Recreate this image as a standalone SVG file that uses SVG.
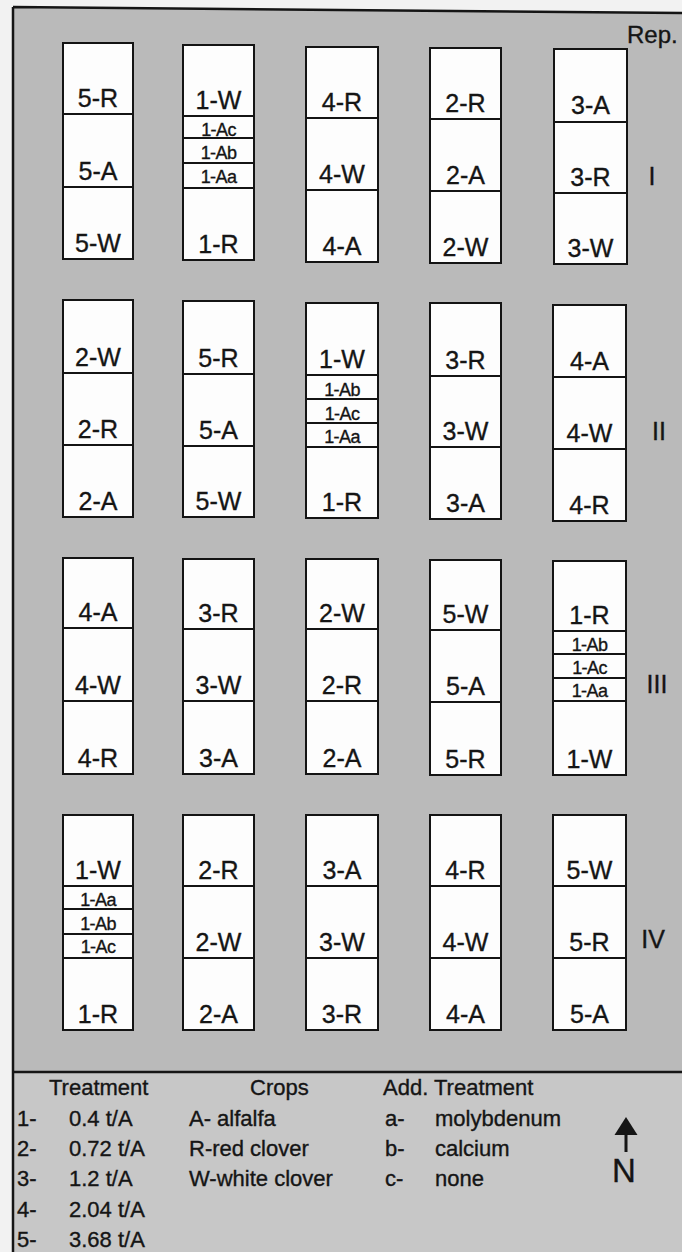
<svg xmlns="http://www.w3.org/2000/svg" width="682" height="1252" viewBox="0 0 682 1252">
<style>
.plot{fill:#fdfdfd;stroke:#141414;stroke-width:2}
.dv{fill:none;stroke:#141414;stroke-width:2}
text{font-family:"Liberation Sans",Arial,sans-serif;fill:#151515;stroke:#151515;stroke-width:0.35}
.lbl{font-size:25px;text-anchor:middle}
.sm{font-size:18px;text-anchor:middle;letter-spacing:-0.6px}
.rn{font-size:25px;text-anchor:middle}
.leg{font-size:22px}
</style>
<rect x="0" y="0" width="682" height="1252" fill="#f2f2f2"/>
<g id="field">
<polygon points="13,7 682,13 682,1072 13,1072" fill="#bababa"/>
<rect x="13" y="1072" width="669" height="180" fill="#c7c7c7"/>
<path d="M13 7L682 13M13 7V1252M13 1072H682" fill="none" stroke="#151515" stroke-width="2.5"/>
<text x="627" y="43" style="font-size:24px">Rep.</text>
<text class="rn" x="652" y="185">I</text>
<text class="rn" x="659" y="440">II</text>
<text class="rn" x="657" y="693">III</text>
<text class="rn" x="653" y="948">IV</text>
</g>

<!-- Rep I -->
<g id="plot-I-1"><rect class="plot" x="63" y="43" width="70" height="216"/><path class="dv" d="M63 114H133M63 187H133"/><text class="lbl" x="98" y="107">5-R</text><text class="lbl" x="98" y="180">5-A</text><text class="lbl" x="98" y="252">5-W</text></g>
<g id="plot-I-2"><rect class="plot" x="183" y="45" width="71" height="215"/><path class="dv" d="M183 116H254M183 138H254M183 163H254M183 188H254"/><text class="lbl" x="218.5" y="109">1-W</text><text class="sm" x="218.5" y="136">1-Ac</text><text class="sm" x="218.5" y="159">1-Ab</text><text class="sm" x="218.5" y="183">1-Aa</text><text class="lbl" x="218.5" y="253">1-R</text></g>
<g id="plot-I-3"><rect class="plot" x="306" y="47" width="72" height="215"/><path class="dv" d="M306 118H378M306 190H378"/><text class="lbl" x="342" y="111">4-R</text><text class="lbl" x="342" y="183">4-W</text><text class="lbl" x="342" y="255">4-A</text></g>
<g id="plot-I-4"><rect class="plot" x="430" y="48" width="71" height="215"/><path class="dv" d="M430 119H501M430 191H501"/><text class="lbl" x="465.5" y="112">2-R</text><text class="lbl" x="465.5" y="184">2-A</text><text class="lbl" x="465.5" y="256">2-W</text></g>
<g id="plot-I-5"><rect class="plot" x="554" y="49" width="73" height="215"/><path class="dv" d="M554 122H627M554 193H627"/><text class="lbl" x="590.5" y="114">3-A</text><text class="lbl" x="590.5" y="186">3-R</text><text class="lbl" x="590.5" y="257">3-W</text></g>

<!-- Rep II -->
<g id="plot-II-1"><rect class="plot" x="63" y="300" width="70" height="217"/><path class="dv" d="M63 373H133M63 445H133"/><text class="lbl" x="98" y="366">2-W</text><text class="lbl" x="98" y="438">2-R</text><text class="lbl" x="98" y="510">2-A</text></g>
<g id="plot-II-2"><rect class="plot" x="183" y="301" width="71" height="216"/><path class="dv" d="M183 374H254M183 446H254"/><text class="lbl" x="218.5" y="367">5-R</text><text class="lbl" x="218.5" y="439">5-A</text><text class="lbl" x="218.5" y="510">5-W</text></g>
<g id="plot-II-3"><rect class="plot" x="306" y="303" width="72" height="215"/><path class="dv" d="M306 375H378M306 399H378M306 423H378M306 447H378"/><text class="lbl" x="342" y="368">1-W</text><text class="sm" x="342" y="396">1-Ab</text><text class="sm" x="342" y="420">1-Ac</text><text class="sm" x="342" y="443">1-Aa</text><text class="lbl" x="342" y="511">1-R</text></g>
<g id="plot-II-4"><rect class="plot" x="430" y="303" width="71" height="216"/><path class="dv" d="M430 376H501M430 447H501"/><text class="lbl" x="465.5" y="369">3-R</text><text class="lbl" x="465.5" y="440">3-W</text><text class="lbl" x="465.5" y="512">3-A</text></g>
<g id="plot-II-5"><rect class="plot" x="553" y="305" width="73" height="216"/><path class="dv" d="M553 377H626M553 449H626"/><text class="lbl" x="589.5" y="370">4-A</text><text class="lbl" x="589.5" y="442">4-W</text><text class="lbl" x="589.5" y="514">4-R</text></g>

<!-- Rep III -->
<g id="plot-III-1"><rect class="plot" x="63" y="558" width="70" height="216"/><path class="dv" d="M63 628H133M63 701H133"/><text class="lbl" x="98" y="621">4-A</text><text class="lbl" x="98" y="694">4-W</text><text class="lbl" x="98" y="767">4-R</text></g>
<g id="plot-III-2"><rect class="plot" x="183" y="559" width="71" height="215"/><path class="dv" d="M183 629H254M183 701H254"/><text class="lbl" x="218.5" y="622">3-R</text><text class="lbl" x="218.5" y="694">3-W</text><text class="lbl" x="218.5" y="767">3-A</text></g>
<g id="plot-III-3"><rect class="plot" x="306" y="559" width="72" height="215"/><path class="dv" d="M306 629H378M306 701H378"/><text class="lbl" x="342" y="622">2-W</text><text class="lbl" x="342" y="694">2-R</text><text class="lbl" x="342" y="767">2-A</text></g>
<g id="plot-III-4"><rect class="plot" x="430" y="560" width="71" height="215"/><path class="dv" d="M430 630H501M430 702H501"/><text class="lbl" x="465.5" y="623">5-W</text><text class="lbl" x="465.5" y="695">5-A</text><text class="lbl" x="465.5" y="768">5-R</text></g>
<g id="plot-III-5"><rect class="plot" x="553" y="561" width="73" height="214"/><path class="dv" d="M553 631H626M553 654H626M553 678H626M553 701H626"/><text class="lbl" x="589.5" y="624">1-R</text><text class="sm" x="589.5" y="651">1-Ab</text><text class="sm" x="589.5" y="674">1-Ac</text><text class="sm" x="589.5" y="697">1-Aa</text><text class="lbl" x="589.5" y="768">1-W</text></g>

<!-- Rep IV -->
<g id="plot-IV-1"><rect class="plot" x="63" y="815" width="70" height="215"/><path class="dv" d="M63 886H133M63 909H133M63 934H133M63 958H133"/><text class="lbl" x="98" y="879">1-W</text><text class="sm" x="98" y="906">1-Aa</text><text class="sm" x="98" y="930">1-Ab</text><text class="sm" x="98" y="953">1-Ac</text><text class="lbl" x="98" y="1023">1-R</text></g>
<g id="plot-IV-2"><rect class="plot" x="183" y="815" width="71" height="215"/><path class="dv" d="M183 886H254M183 958H254"/><text class="lbl" x="218.5" y="879">2-R</text><text class="lbl" x="218.5" y="951">2-W</text><text class="lbl" x="218.5" y="1023">2-A</text></g>
<g id="plot-IV-3"><rect class="plot" x="306" y="815" width="72" height="215"/><path class="dv" d="M306 886H378M306 958H378"/><text class="lbl" x="342" y="879">3-A</text><text class="lbl" x="342" y="951">3-W</text><text class="lbl" x="342" y="1023">3-R</text></g>
<g id="plot-IV-4"><rect class="plot" x="430" y="815" width="71" height="215"/><path class="dv" d="M430 886H501M430 958H501"/><text class="lbl" x="465.5" y="879">4-R</text><text class="lbl" x="465.5" y="951">4-W</text><text class="lbl" x="465.5" y="1023">4-A</text></g>
<g id="plot-IV-5"><rect class="plot" x="553" y="815" width="73" height="215"/><path class="dv" d="M553 886H626M553 958H626"/><text class="lbl" x="589.5" y="879">5-W</text><text class="lbl" x="589.5" y="951">5-R</text><text class="lbl" x="589.5" y="1023">5-A</text></g>

<!-- Legend -->
<g id="legend">
<text class="leg" x="49" y="1095">Treatment</text>
<text class="leg" x="250" y="1095">Crops</text>
<text class="leg" x="383" y="1095">Add. Treatment</text>
<text class="leg" x="17" y="1126">1-</text><text class="leg" x="69" y="1126">0.4 t/A</text>
<text class="leg" x="17" y="1156">2-</text><text class="leg" x="69" y="1156">0.72 t/A</text>
<text class="leg" x="17" y="1186">3-</text><text class="leg" x="69" y="1186">1.2 t/A</text>
<text class="leg" x="17" y="1217">4-</text><text class="leg" x="69" y="1217">2.04 t/A</text>
<text class="leg" x="17" y="1247">5-</text><text class="leg" x="69" y="1247">3.68 t/A</text>
<text class="leg" x="189" y="1126">A- alfalfa</text>
<text class="leg" x="189" y="1156">R-red clover</text>
<text class="leg" x="189" y="1186">W-white clover</text>
<text class="leg" x="385" y="1126">a-</text><text class="leg" x="435" y="1126">molybdenum</text>
<text class="leg" x="385" y="1156">b-</text><text class="leg" x="435" y="1156">calcium</text>
<text class="leg" x="385" y="1186">c-</text><text class="leg" x="435" y="1186">none</text>
</g>
<g id="north">
<polygon points="626,1117 614.5,1135 637.5,1135" fill="#151515"/>
<rect x="624.5" y="1133" width="3" height="19" fill="#151515"/>
<text x="624" y="1182" style="font-size:33px;text-anchor:middle">N</text>
</g>
</svg>
